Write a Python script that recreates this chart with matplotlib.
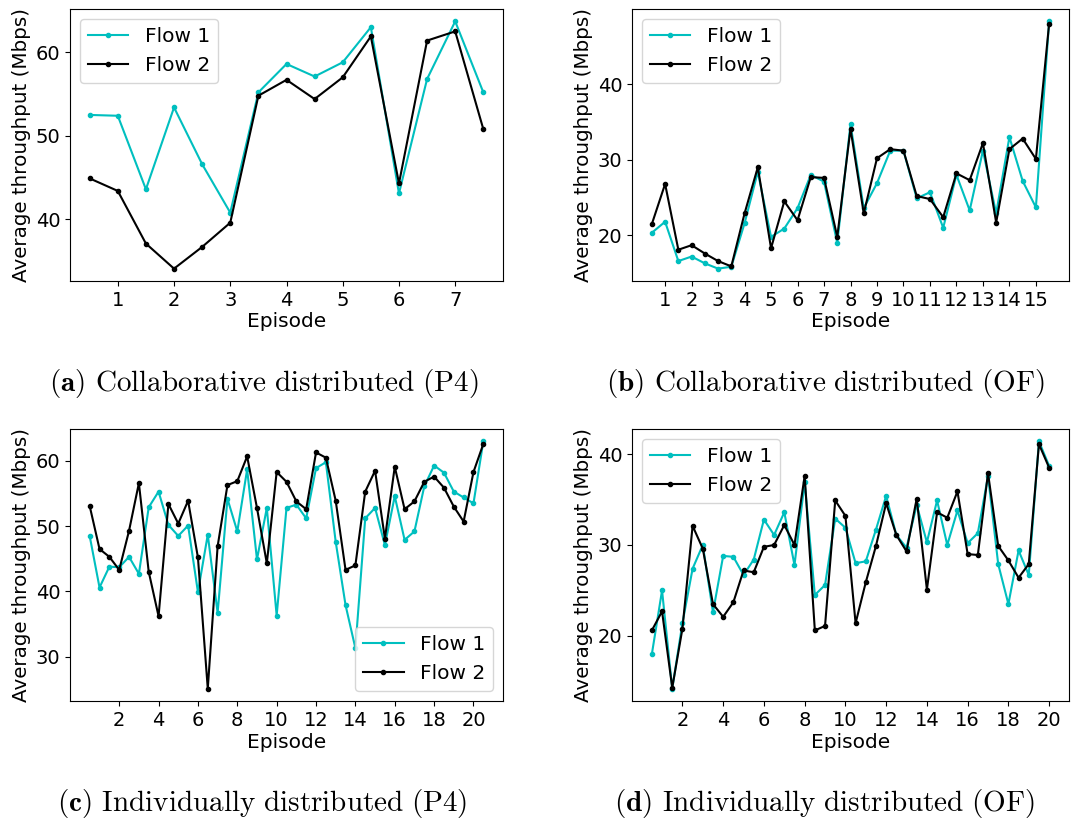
import matplotlib
matplotlib.use("Agg")
import matplotlib.pyplot as plt
import numpy as np

plt.rcParams['mathtext.fontset'] = 'cm'

# (a) collaborative distributed, P4
ep_a = np.arange(0.5, 7.51, 0.5)
a_flow1 = [52.5, 52.4, 43.6, 53.4, 46.6, 40.8, 55.2, 58.6, 57.1, 58.8, 63.0, 43.1, 56.8, 63.7, 55.2]
a_flow2 = [44.9, 43.4, 37.1, 34.1, 36.7, 39.6, 54.8, 56.7, 54.4, 57.0, 61.9, 44.3, 61.4, 62.5, 50.8]

# (b) collaborative distributed, OF
ep_b = np.arange(0.5, 15.51, 0.5)
b_flow1 = [20.35, 21.8, 16.6, 17.2, 16.3, 15.6, 15.85, 21.6, 28.4, 19.8,
           20.9, 23.6, 28.0, 27.1, 19.0, 34.7, 23.6, 26.9, 31.2, 31.2,
           24.9, 25.7, 21.0, 28.0, 23.3, 31.2, 22.9, 33.0, 27.2, 23.7, 48.3]
b_flow2 = [21.5, 26.8, 18.1, 18.7, 17.6, 16.6, 15.9, 22.9, 29.0, 18.3,
           24.5, 22.0, 27.7, 27.6, 19.8, 34.1, 22.9, 30.2, 31.4, 31.2,
           25.2, 24.8, 22.4, 28.2, 27.3, 32.2, 21.7, 31.4, 32.8, 30.1, 48.0]

# (c) individually distributed, P4
ep_c = np.arange(0.5, 20.51, 0.5)
c_flow1 = [48.5, 40.6, 43.8, 43.7, 45.3, 42.7, 52.9, 55.3, 50.2, 48.5,
           50.1, 39.9, 48.7, 36.7, 54.2, 49.2, 58.7, 44.9, 52.8, 36.3,
           52.8, 53.3, 51.2, 58.9, 59.8, 47.6, 37.9, 31.3, 51.2, 52.8,
           47.1, 54.6, 47.9, 49.2, 56.1, 59.3, 58.2, 55.3, 54.4, 53.5, 63.0]
c_flow2 = [53.1, 46.5, 45.3, 43.3, 49.3, 56.6, 43.0, 36.2, 53.4, 50.4,
           53.9, 45.2, 25.1, 46.9, 56.3, 56.9, 60.7, 52.8, 44.3, 58.3,
           56.8, 53.8, 52.6, 61.3, 60.5, 53.9, 43.3, 44.0, 55.3, 58.5,
           48.1, 59.1, 52.6, 53.8, 56.8, 57.6, 55.9, 53.0, 50.7, 58.3, 62.6]

# (d) individually distributed, OF
ep_d = np.arange(0.5, 20.01, 0.5)
d_flow1 = [18.0, 25.0, 14.2, 21.4, 27.4, 30.0, 22.6, 28.8, 28.7, 26.7,
           28.4, 32.8, 31.1, 33.6, 27.8, 36.9, 24.5, 25.6, 32.9, 31.9,
           28.0, 28.2, 31.7, 35.4, 31.1, 29.7, 34.4, 30.3, 34.9, 30.0,
           33.8, 30.2, 31.3, 37.6, 27.9, 23.5, 29.4, 26.7, 41.4, 38.7]
d_flow2 = [20.6, 22.7, 14.3, 20.8, 32.1, 29.6, 23.5, 22.1, 23.7, 27.2,
           27.0, 29.8, 30.0, 32.2, 30.0, 37.6, 20.6, 21.1, 34.9, 33.2,
           21.4, 25.9, 29.9, 34.6, 31.1, 29.3, 35.1, 25.1, 33.6, 33.0,
           35.9, 29.0, 28.9, 37.9, 29.9, 28.3, 26.4, 27.9, 41.1, 38.5]

panels = [
    (ep_a, a_flow1, a_flow2, np.arange(1, 8), [40, 50, 60], 'upper left', 'a', 'Collaborative distributed (P4)'),
    (ep_b, b_flow1, b_flow2, np.arange(1, 16), [20, 30, 40], 'upper left', 'b', 'Collaborative distributed (OF)'),
    (ep_c, c_flow1, c_flow2, np.arange(2, 21, 2), [30, 40, 50, 60], 'lower right', 'c', 'Individually distributed (P4)'),
    (ep_d, d_flow1, d_flow2, np.arange(2, 21, 2), [20, 30, 40], 'upper left', 'd', 'Individually distributed (OF)'),
]

W, H = 1073, 823
fig = plt.figure(figsize=(W / 100, H / 100), dpi=100)

# axes boxes in pixels: left, top, right, bottom
boxes = [(70, 9, 503, 281), (632, 9, 1069, 281), (70, 429, 503, 701), (632, 429, 1069, 701)]
cap_pos = [(264, 383), (825, 383), (262, 803), (824, 803)]

for (ep, f1, f2, xt, yt, loc, tag, title), (l, t, r, b), (cx, cy) in zip(panels, boxes, cap_pos):
    ax = fig.add_axes([l / W, 1 - b / H, (r - l) / W, (b - t) / H])
    ax.plot(ep, f1, color='c', marker='.', markersize=6, linewidth=1.5, label='Flow 1')
    ax.plot(ep, f2, color='k', marker='.', markersize=6, linewidth=1.5, label='Flow 2')
    ax.set_xticks(xt)
    ax.set_yticks(yt)
    ax.tick_params(labelsize=14)
    ax.set_xlabel('Episode', fontsize=14.5, labelpad=2)
    ax.set_ylabel('Average throughput (Mbps)', fontsize=14.3, labelpad=3)
    ax.legend(loc=loc, fontsize=14.5)
    fig.text(cx / W, 1 - cy / H,
             r'$\mathbf{(' + tag + r')}$ $\mathrm{' + title.replace(' ', r'\ ') + r'}$',
             ha='center', va='center', fontsize=21)

fig.savefig('out.png', dpi=100)
